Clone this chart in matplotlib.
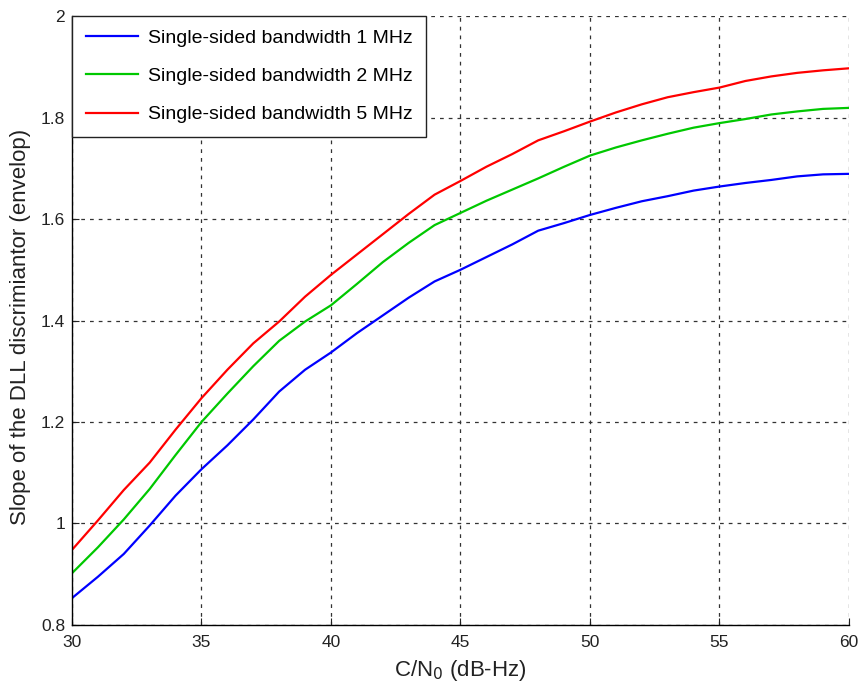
import numpy as np
import matplotlib
matplotlib.use("Agg")
import matplotlib.pyplot as plt
from matplotlib.ticker import FuncFormatter

plt.rcParams['font.family'] = ['Liberation Sans', 'DejaVu Sans']

cn0 = [30, 31, 32, 33, 34, 35, 36, 37, 38, 39, 40, 41, 42, 43, 44, 45,
       46, 47, 48, 49, 50, 51, 52, 53, 54, 55, 56, 57, 58, 59, 60]

bw1 = [0.853, 0.895, 0.940, 0.996, 1.055, 1.107, 1.154, 1.205, 1.260, 1.303,
       1.337, 1.375, 1.410, 1.445, 1.477, 1.500, 1.525, 1.550, 1.577, 1.592,
       1.608, 1.622, 1.635, 1.645, 1.656, 1.664, 1.671, 1.677, 1.684, 1.688,
       1.689]
bw2 = [0.902, 0.953, 1.008, 1.068, 1.135, 1.200, 1.256, 1.310, 1.360, 1.398,
       1.430, 1.472, 1.515, 1.553, 1.588, 1.612, 1.636, 1.658, 1.680, 1.703,
       1.725, 1.741, 1.755, 1.768, 1.780, 1.789, 1.797, 1.806, 1.812, 1.817,
       1.819]
bw5 = [0.948, 1.006, 1.066, 1.120, 1.185, 1.247, 1.303, 1.355, 1.398, 1.447,
       1.490, 1.530, 1.570, 1.610, 1.648, 1.675, 1.703, 1.728, 1.755, 1.773,
       1.792, 1.810, 1.826, 1.840, 1.850, 1.859, 1.872, 1.881, 1.888, 1.893,
       1.897]

labels = ['Single-sided bandwidth 1 MHz',
          'Single-sided bandwidth 2 MHz',
          'Single-sided bandwidth 5 MHz']
colors = ['#0000ff', '#00c800', '#ff0000']

fig = plt.figure(figsize=(8.6, 6.85), dpi=100)
ax = fig.add_axes([0.0837, 0.0876, 0.9035, 0.889])

for y, lab, c in zip([bw1, bw2, bw5], labels, colors):
    ax.plot(cn0, y, color=c, lw=1.6, label=lab)

ax.set_xlim(30, 60)
ax.set_ylim(0.8, 2)
ax.set_xticks([30, 35, 40, 45, 50, 55, 60])
ax.set_yticks([0.8, 1, 1.2, 1.4, 1.6, 1.8, 2])
ax.yaxis.set_major_formatter(FuncFormatter(lambda v, p: '%g' % v))

ax.grid(True, color='#333333', ls=(0, (3, 4)), lw=0.9)
ax.set_axisbelow(True)
for s in ['top', 'right']:
    ax.spines[s].set_visible(False)
ax.spines['left'].set_linewidth(1.0)
ax.spines['bottom'].set_linewidth(1.0)
ax.tick_params(direction='in', length=5, labelsize=12.5, colors='#222222')
ax.tick_params(axis='x', pad=7)
ax.tick_params(axis='y', pad=5)

ax.set_xlabel('C/N$_0$ (dB-Hz)', fontsize=16, color='#222222', labelpad=6)
ax.set_ylabel('Slope of the DLL discrimiantor (envelop)', fontsize=16, color='#222222')
ax.yaxis.set_label_coords(-0.053, 0.49)

leg = ax.legend(loc='upper left', borderaxespad=0, fancybox=False, framealpha=1,
                edgecolor='#222222', fontsize=14, handlelength=2.7,
                handletextpad=0.5, labelspacing=1.05, borderpad=0.7)
leg.get_frame().set_linewidth(1.0)

fig.savefig('out.png', dpi=100)
